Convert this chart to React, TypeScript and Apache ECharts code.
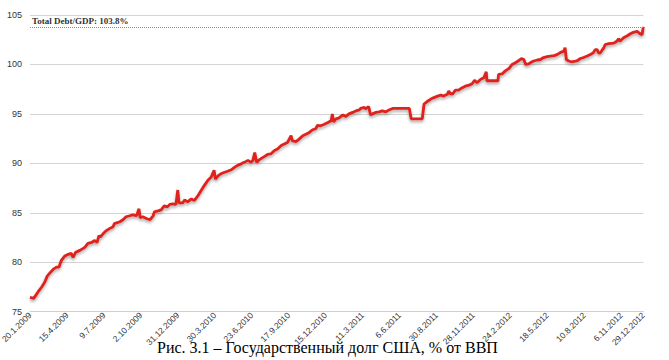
import React, { useEffect, useRef } from "react";
import * as echarts from "echarts";

// x = trading-day index since 20.1.2009
const tradingDay = [
  0, 6, 13, 19, 24, 28, 32, 38, 43, 47, 51, 56, 62, 67, 70, 74, 81, 89, 94, 100,
  105, 109, 112, 114, 119, 124, 129, 135, 137, 146, 151, 156, 162, 167, 173, 177, 179, 183, 190, 195,
  200, 202, 208, 213, 218, 223, 227, 232, 237, 240, 242, 248, 251, 256, 262, 267, 273, 278, 283, 289,
  294, 299, 301, 305, 310, 316, 321, 327, 332, 337, 343, 348, 354, 359, 362, 365, 368, 372, 381, 386,
  391, 397, 402, 408, 413, 418, 421, 424, 426, 432, 437, 443, 448, 453, 459, 464, 467, 472, 478, 483,
  489, 491, 493, 497, 502, 508, 513, 518, 524, 529, 535, 537, 543, 545, 550, 553, 556, 562, 567, 572,
  578, 583, 589, 616, 619, 637, 640, 645, 651, 656, 662, 667, 672, 678, 680, 683, 686, 691, 696, 702,
  707, 713, 718, 722, 726, 732, 737, 741, 742, 748, 760, 761, 767, 772, 778, 783, 789, 794, 798, 802,
  805, 810, 813, 818, 824, 829, 834, 840, 845, 851, 856, 861, 867, 869, 871, 875, 880, 888, 894, 899,
  905, 910, 915, 918, 921, 923, 926, 932, 934, 940, 948, 953, 956, 958, 964, 970, 975, 980, 986, 991,
  994, 996,
];

const debtPct = [
  76.45, 76.35, 77.0, 77.5, 78.0, 78.6, 78.9, 79.3, 79.5, 79.5, 80.2, 80.6, 80.8, 80.9, 80.5, 81.0, 81.2, 81.5, 81.9, 82.0,
  82.2, 82.0, 82.7, 82.55, 82.9, 83.2, 83.4, 83.6, 83.9, 84.1, 84.3, 84.6, 84.7, 84.8, 84.7, 85.4, 84.5, 84.6, 84.4, 84.3,
  84.7, 85.1, 85.2, 85.3, 85.7, 85.6, 85.85, 85.9, 85.85, 87.3, 86.0, 86.0, 86.3, 86.1, 86.4, 86.25, 86.75, 87.25, 87.75, 88.3,
  88.6, 89.3, 88.4, 88.7, 88.95, 89.1, 89.2, 89.35, 89.6, 89.8, 89.95, 90.1, 90.3, 90.1, 90.3, 91.1, 90.1, 90.35, 90.7, 90.9,
  90.95, 91.3, 91.45, 91.8, 91.95, 92.1, 92.45, 92.8, 92.3, 92.2, 92.45, 92.8, 92.95, 93.1, 93.4, 93.5, 93.85, 93.8, 93.95, 94.1,
  94.3, 95.0, 94.2, 94.5, 94.6, 94.9, 94.75, 95.0, 95.15, 95.3, 95.4, 95.55, 95.65, 95.5, 95.75, 94.9, 95.0, 95.15, 95.2, 95.3,
  95.2, 95.4, 95.55, 95.55, 94.5, 94.5, 96.0, 96.25, 96.5, 96.65, 96.8, 96.9, 96.8, 97.0, 97.3, 97.05, 97.0, 97.4, 97.4, 97.65,
  97.8, 97.9, 98.05, 98.4, 98.15, 98.5, 98.65, 99.25, 98.35, 98.35, 98.35, 99.0, 99.05, 99.35, 99.6, 100.0, 100.2, 100.4, 100.6, 100.5,
  100.0, 100.05, 100.2, 100.35, 100.45, 100.5, 100.7, 100.8, 100.85, 100.9, 101.0, 101.2, 101.35, 101.7, 100.5, 100.35, 100.25, 100.35, 100.6, 100.7,
  100.85, 101.0, 101.2, 101.5, 101.5, 101.2, 101.15, 101.7, 102.0, 102.1, 102.15, 102.35, 102.6, 102.35, 102.7, 102.9, 103.1, 103.25, 103.35, 103.1,
  103.0, 103.8,
];

const xTickLabels = [
  "20.1.2009", "15.4.2009", "9.7.2009", "2.10.2009", "31.12.2009", "30.3.2010",
  "23.6.2010", "17.9.2010", "15.12.2010", "11.3.2011", "6.6.2011", "30.8.2011",
  "28.11.2011", "24.2.2012", "18.5.2012", "10.8.2012", "6.11.2012", "29.12.2012",
];

const X_STEP = 60;
const X_MAX = 996;
const CURRENT_DEBT = 103.8;
const CURRENT_LABEL = "Total Debt/GDP: 103.8%";
const CAPTION = "Рис. 3.1 – Государственный долг США, % от ВВП";

export default function App() {
  const ref = useRef<HTMLDivElement>(null);
  useEffect(() => {
    if (!ref.current) return;
    const chart = echarts.init(ref.current, null, { renderer: "svg" });
    const data = tradingDay.map((d, i) => [d, debtPct[i]]);
    chart.setOption({
      animation: false,
      backgroundColor: "#ffffff",
      title: {
        text: CAPTION,
        left: 157,
        top: 339,
        padding: 0,
        textStyle: {
          fontFamily: "Liberation Serif",
          fontSize: 16,
          fontWeight: "normal",
          color: "#000000",
        },
      },
      grid: {
        left: 30,
        right: 25.7,
        top: 15,
        bottom: 48.3,
        containLabel: false,
        outerBoundsMode: "none",
      },
      xAxis: {
        type: "value",
        min: 0,
        max: X_MAX,
        interval: X_STEP,
        axisLine: { show: true, lineStyle: { color: "#cfcfcf", width: 1 } },
        axisTick: { show: false },
        splitLine: { show: false },
        axisLabel: {
          rotate: 45,
          margin: 2,
          fontSize: 8.5,
          fontFamily: "Liberation Sans",
          color: "#333333",
          showMaxLabel: true,
          showMinLabel: true,
          hideOverlap: false,
          formatter: (v: number) =>
            v === X_MAX ? xTickLabels[xTickLabels.length - 1] : xTickLabels[Math.round(v / X_STEP)],
        },
      },
      yAxis: {
        type: "value",
        min: 75,
        max: 105,
        interval: 5,
        axisLine: { show: false },
        axisTick: { show: false },
        splitLine: { show: true, lineStyle: { color: "#d4d4d4", width: 1 } },
        axisLabel: {
          margin: 8,
          fontSize: 9,
          fontFamily: "Liberation Sans",
          color: "#333333",
        },
      },
      series: [
        {
          type: "line",
          data,
          showSymbol: false,
          symbol: "none",
          lineStyle: {
            color: "#e0201c",
            width: 2.8,
            shadowColor: "rgba(0,0,0,0.35)",
            shadowBlur: 3,
            shadowOffsetY: 2,
          },
          markLine: {
            silent: true,
            symbol: ["none", "none"],
            lineStyle: { color: "#e06a6a", type: "dotted", width: 1 },
            label: {
              show: true,
              position: "insideStartTop",
              distance: [2, 1],
              formatter: CURRENT_LABEL,
              fontFamily: "Liberation Serif",
              fontWeight: "bold",
              fontSize: 9,
              color: "#333333",
            },
            data: [{ yAxis: CURRENT_DEBT }],
          },
        },
      ],
    });
    return () => chart.dispose();
  }, []);
  return (
    <div
      ref={ref}
      style={{ position: "fixed", left: 0, top: 0, width: 669, height: 360, background: "#fff" }}
    />
  );
}
